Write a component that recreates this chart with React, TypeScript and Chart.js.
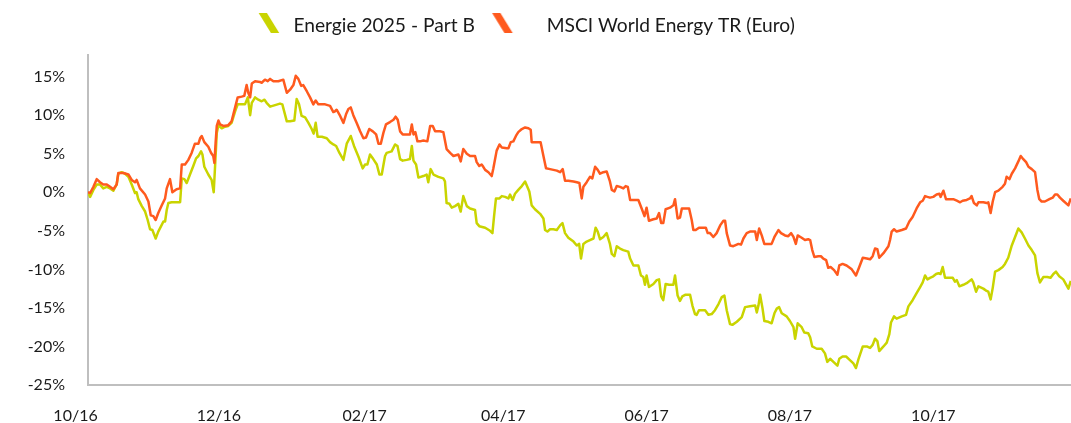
import React, { useEffect, useRef } from 'react';
import { Chart, registerables } from 'chart.js';

Chart.register(...registerables);

// ---- data ----
const seriesNames = ['Energie 2025 - Part B', 'MSCI World Energy TR (Euro)'];
const seriesColors = ['#C9D400', '#FF5A1E'];

// x tick positions in days since 1 Oct 2016, with their labels
const xTickDays = [0, 61, 123, 182, 243, 304, 365];
const xTickLabels = ['10/16', '12/16', '02/17', '04/17', '06/17', '08/17', '10/17'];
const yTickValues = [-25, -20, -15, -10, -5, 0, 5, 10, 15];

// Energie 2025 - Part B (performance in %), x in days since 1 Oct 2016
const energieDays = [5.3, 6.2, 7.6, 9.0, 10.4, 11.8, 13.3, 14.7, 16.1, 17.5, 18.2, 19.6, 21.1, 22.5, 23.9, 25.3, 26.0, 26.7, 28.2, 29.6, 30.7, 31.7, 32.7, 34.1, 35.2, 36.4, 37.4, 38.1, 38.8, 39.5, 40.9, 44.5, 45.2, 46.3, 47.3, 48.7, 50.1, 51.3, 52.3, 53.4, 54.0, 54.8, 56.5, 57.9, 58.8, 59.6, 60.1, 60.8, 62.2, 63.6, 65.0, 66.4, 67.9, 69.0, 70.7, 72.1, 73.3, 74.3, 75.0, 76.4, 77.8, 79.2, 80.4, 81.3, 82.8, 84.9, 87.0, 88.0, 89.9, 91.3, 93.1, 94.1, 95.1, 96.2, 97.7, 99.1, 100.5, 101.3, 102.2, 103.0, 104.8, 106.9, 108.3, 109.7,
  110.9, 112.3, 114.0, 115.4, 117.1, 118.5, 120.4, 122.2, 123.2, 124.2, 125.3, 126.7, 128.2, 129.3, 130.3, 131.7, 132.4, 134.5, 136.0, 137.0, 138.1, 139.2, 140.9, 142.3, 143.1, 143.8, 144.9, 145.9, 148.0, 149.4, 150.1, 151.1, 152.3, 154.4, 156.5, 157.2, 157.9, 159.1, 160.1, 161.5, 162.9, 163.9, 165.0, 166.5, 167.9, 170.0, 170.7, 171.8, 174.3, 176.4, 177.4, 178.1, 178.9, 180.4, 181.4, 182.8, 184.2, 184.9, 186.0, 187.0, 188.4, 189.9, 191.3, 193.1, 194.1, 195.5, 197.7, 199.1, 199.8, 200.8, 201.9, 203.3, 204.8, 206.2, 207.2, 208.3, 209.7, 211.9, 213.3,
  214.3, 215.1, 216.1, 217.5, 218.9, 220.4, 221.3, 222.2, 223.2, 224.6, 226.0, 227.4, 228.2, 229.3, 230.3, 231.7, 233.1, 235.2, 236.0, 237.4, 239.5, 240.6, 241.6, 242.3, 243.0, 244.0, 245.9, 247.3, 248.3, 249.2, 250.1, 251.1, 252.6, 254.4, 255.1, 256.2, 257.2, 258.2, 259.4, 261.5, 262.5, 263.6, 264.3, 265.3, 267.9, 269.3, 270.7, 272.1, 273.6, 275.0, 276.1, 277.1, 278.5, 279.5, 281.4, 283.5, 284.9, 287.0, 289.2, 289.9, 290.6, 291.3, 292.3, 293.1, 294.8, 296.2, 297.4, 298.4, 299.4, 300.5, 302.6, 304.0, 305.5, 306.2, 307.3, 309.0, 310.1, 311.8, 312.6, 313.5, 315.4, 317.5, 318.9,
  319.9, 321.1, 322.5, 324.2, 325.0, 326.4, 327.9, 329.3, 331.0, 332.1, 333.1, 335.0, 336.7, 338.1, 339.2, 340.2, 341.2, 342.0, 343.8, 345.2, 346.3, 347.0, 348.3, 349.4, 351.6, 353.4, 354.4, 356.2, 357.9, 359.4, 360.5, 361.5, 362.5, 363.6, 365.0, 366.2, 367.2, 368.1, 369.0, 370.0, 371.4, 373.3, 374.2, 375.0, 376.1, 377.8, 379.2, 381.3, 382.0, 383.2, 384.2, 386.3, 387.7, 388.4, 389.4, 390.3, 391.3, 392.7, 394.5, 395.5, 396.9, 398.4, 399.8, 401.2, 402.6, 404.0, 405.5, 406.9, 408.3, 409.3, 410.4, 411.8, 413.5, 414.9, 416.1, 417.2, 418.6, 420.3, 422.5, 423.5];
const energieValues = [0, -0.6, 0.3, 1.0, 1.0, 0.5, 0.7, 0.5, 0.2, 1.0, 2.4, 2.6, 2.4, 2.0, 1.0, -0.1, 0.0, -0.9, -1.8, -2.5, -3.6, -4.8, -4.9, -6.0, -5.1, -4.4, -3.8, -3.8, -2.3, -1.4, -1.3, -1.3, 1.8, 1.7, 1.2, 2.3, 3.4, 4.4, 4.7, 5.3, 4.9, 3.3, 2.3, 1.6, 0.0, 4.7, 7.7, 8.7, 8.3, 8.5, 8.6, 9.0, 10.5, 11.4, 11.4, 11.4, 12.3, 10.0, 11.6, 12.3, 12.0, 11.8, 12.0, 11.6, 11.1, 11.3, 11.5, 11.4, 9.2, 9.2, 9.3, 12.1, 11.4, 9.9, 9.7, 9.0, 8.2, 7.6, 9.0, 7.2, 7.2, 7.0, 6.5, 6.2,
  6.0, 5.1, 4.2, 6.3, 7.3, 6.0, 4.6, 3.1, 3.6, 3.6, 4.9, 4.3, 3.6, 2.3, 2.3, 4.7, 5.1, 5.3, 6.2, 6.0, 4.3, 4.1, 4.2, 4.3, 6.0, 4.1, 3.6, 1.9, 2.1, 2.3, 1.3, 3.0, 2.3, 2.0, 1.8, 1.4, -1.4, -1.5, -2.0, -1.8, -1.5, -2.5, -0.5, -1.8, -2.1, -2.3, -4.0, -4.4, -4.6, -5.0, -5.3, -3.1, -0.8, -0.8, -0.5, -0.6, -0.8, -0.3, -1.0, -0.2, 0.3, 0.8, 1.4, 0.1, -1.7, -2.2, -2.8, -3.4, -4.9, -5.1, -4.8, -4.8, -4.9, -4.3, -4.0, -5.3, -5.9, -6.4, -6.9,
  -6.7, -8.6, -6.7, -6.4, -6.2, -6.0, -4.6, -5.1, -6.1, -5.8, -5.3, -6.7, -8.0, -8.3, -7.0, -7.3, -7.5, -7.7, -8.6, -9.5, -9.5, -10.8, -11.0, -12.0, -10.8, -12.3, -11.9, -11.4, -11.3, -13.5, -14.0, -11.9, -12.0, -12.0, -10.8, -13.4, -14.1, -13.5, -13.3, -13.3, -14.7, -15.8, -15.9, -15.3, -15.3, -15.9, -15.8, -15.3, -14.5, -13.6, -13.4, -15.3, -17.1, -17.2, -16.8, -16.2, -14.9, -14.8, -14.7, -15.6, -14.7, -13.3, -15.0, -16.7, -16.8, -17.0, -15.7, -15.1, -14.9, -15.7, -16.1, -16.7, -17.5, -19.0, -17.0, -17.5, -18.2, -18.3, -18.8, -20.0, -20.3, -20.3, -20.9,
  -22.0, -21.6, -22.0, -22.5, -21.6, -21.3, -21.3, -21.7, -22.2, -22.8, -21.7, -20.0, -20.0, -20.2, -19.8, -19.0, -19.3, -20.6, -20.0, -19.5, -18.4, -16.9, -16.1, -16.4, -16.1, -15.9, -14.8, -14.0, -13.1, -12.3, -11.7, -10.8, -11.3, -11.1, -10.9, -10.6, -10.5, -10.6, -9.7, -11.1, -11.1, -11.1, -11.6, -11.4, -12.2, -12.0, -11.8, -11.3, -11.7, -12.9, -12.2, -12.5, -12.8, -12.9, -13.9, -12.4, -10.3, -10.1, -9.7, -9.3, -8.5, -6.9, -5.8, -4.7, -5.2, -6.0, -6.9, -7.5, -8.2, -10.5, -11.7, -11.0, -11.0, -11.1, -10.6, -10.3, -10.9, -11.3, -12.5, -11.5];

// MSCI World Energy TR (Euro) (performance in %), x in days since 1 Oct 2016
const msciDays = [5.3, 6.2, 7.6, 9.0, 10.4, 11.8, 13.3, 14.7, 16.1, 17.5, 18.2, 20.4, 22.5, 23.9, 25.3, 26.0, 27.4, 29.6, 31.0, 32.0, 33.1, 34.1, 35.2, 36.7, 38.1, 38.8, 40.2, 41.2, 43.0, 44.5, 45.2, 46.6, 48.0, 49.4, 50.8, 52.3, 53.0, 53.7, 54.8, 56.5, 57.7, 58.6, 59.1, 59.6, 60.1, 60.8, 61.5, 62.9, 65.0, 66.4, 67.9, 69.0, 70.7, 71.8, 72.8, 73.5, 74.3, 75.0, 76.4, 78.5, 79.2, 80.6, 81.8, 82.8, 84.2, 86.3, 88.4, 89.9, 91.3, 92.7, 93.7, 94.8, 96.0, 96.9, 98.4, 99.8, 101.2, 102.2, 103.3, 106.2, 108.3, 109.7,
  110.4, 111.1, 112.6, 114.0, 115.1, 116.1, 117.1, 118.2, 119.6, 121.1, 122.5, 123.6, 125.0, 126.5, 127.9, 128.9, 129.9, 131.0, 132.1, 133.8, 135.3, 136.2, 137.1, 138.1, 139.2, 141.6, 142.3, 143.1, 143.8, 144.6, 145.5, 146.6, 148.0, 149.7, 150.9, 152.0, 153.0, 155.1, 156.5, 157.9, 159.4, 160.8, 162.9, 163.9, 165.0, 166.5, 167.9, 170.0, 170.7, 171.8, 172.8, 173.5, 174.3, 175.7, 177.1, 177.8, 179.2, 180.4, 181.4, 183.5, 184.2, 185.2, 186.3, 187.4, 188.4, 189.9, 191.3, 192.7, 193.7, 194.1, 195.5, 197.9, 199.1, 200.2, 201.9, 204.8, 206.2, 207.3, 208.3, 209.7, 211.9, 213.3, 214.4,
  215.4, 216.1, 217.5, 218.9, 219.9, 221.1, 222.2, 223.2, 224.6, 226.0, 227.4, 228.2, 229.3, 230.3, 231.7, 233.1, 234.1, 235.0, 236.0, 237.4, 239.5, 240.9, 242.1, 243.0, 244.0, 245.9, 247.3, 248.3, 249.2, 250.1, 251.1, 253.0, 254.4, 255.1, 256.2, 257.2, 258.0, 259.4, 261.1, 262.2, 262.9, 263.9, 265.3, 267.2, 268.2, 269.0, 270.0, 271.4, 272.8, 274.3, 275.7, 276.4, 277.1, 278.5, 279.9, 282.1, 283.2, 284.2, 285.6, 287.0, 289.2, 289.9, 290.9, 292.0, 293.1, 295.5, 296.2, 297.4, 299.1, 300.2, 301.9, 303.3, 304.5, 305.5, 306.5, 307.3, 309.0, 310.4, 311.8, 312.6, 313.5, 314.4, 316.1, 317.2, 318.2,
  319.4, 320.3, 321.3, 322.8, 324.2, 325.0, 326.4, 328.1, 330.3, 332.1, 333.5, 335.0, 336.7, 338.1, 339.2, 340.2, 341.2, 342.0, 343.8, 345.9, 346.6, 347.3, 348.3, 349.4, 351.6, 353.4, 354.8, 356.2, 357.9, 359.4, 360.5, 361.5, 362.5, 363.6, 365.0, 366.4, 367.6, 368.1, 369.3, 370.4, 372.1, 373.5, 375.0, 376.4, 377.5, 379.2, 380.6, 381.3, 382.3, 383.5, 384.2, 386.3, 387.7, 388.4, 389.4, 390.3, 391.3, 392.7, 394.5, 395.5, 396.2, 397.4, 398.4, 399.8, 401.2, 402.2, 403.0, 404.5, 405.5, 406.9, 408.3, 409.3, 410.1, 411.1, 412.5, 414.4, 415.8, 416.8, 417.8, 418.9, 420.3, 422.5, 423.5];
const msciValues = [0, -0.1, 0.7, 1.7, 1.3, 1.0, 1.0, 0.7, 0.4, 1.0, 2.5, 2.5, 2.3, 1.6, 1.3, 1.6, 0.5, -0.3, -1.2, -3.0, -3.1, -3.6, -2.7, -1.7, -0.8, 0.5, 1.7, 0.0, 0.4, 0.5, 3.6, 3.6, 4.2, 5.1, 6.3, 6.3, 7.0, 7.3, 6.5, 5.9, 5.1, 4.7, 3.8, 6.4, 8.6, 9.3, 8.8, 8.6, 8.7, 9.2, 11.0, 12.3, 12.4, 12.5, 13.9, 12.9, 12.3, 14.1, 14.4, 14.3, 14.2, 14.6, 14.4, 14.7, 14.4, 14.4, 14.6, 12.9, 13.3, 13.9, 15.1, 14.7, 13.8, 13.9, 13.1, 12.3, 11.4, 11.9, 11.4, 11.4, 11.2, 10.4,
  10.5, 10.7, 9.9, 9.0, 10.1, 10.8, 11.0, 10.0, 9.0, 7.9, 7.0, 7.1, 8.2, 7.9, 7.5, 6.3, 6.3, 7.7, 8.8, 9.1, 9.4, 9.8, 9.4, 7.9, 7.5, 7.5, 7.5, 8.8, 7.5, 7.8, 6.6, 6.6, 6.7, 6.6, 8.6, 8.6, 7.9, 7.9, 7.8, 5.6, 5.1, 4.7, 4.9, 4.0, 5.6, 5.0, 4.7, 4.7, 3.9, 3.4, 3.6, 3.3, 2.9, 2.6, 2.1, 3.1, 5.4, 6.2, 5.8, 5.7, 5.7, 6.5, 6.6, 7.3, 7.8, 8.2, 8.4, 8.3, 8.1, 6.5, 6.5, 6.5, 4.7, 3.1, 3.0, 2.8, 2.6, 3.0, 1.5, 1.5, 1.4, 1.3, 1.2,
  -0.8, 0.7, 1.3, 2.0, 1.8, 3.3, 2.9, 2.4, 2.6, 2.7, 1.4, 0.3, 0.1, 0.8, 0.7, 0.5, 0.8, 0.7, -1.0, -1.0, -1.0, -2.1, -3.1, -2.0, -3.7, -3.5, -3.4, -2.7, -4.0, -4.0, -2.2, -2.0, -1.7, -0.9, -3.4, -3.3, -2.1, -2.1, -2.1, -3.6, -4.9, -4.9, -4.6, -4.6, -4.6, -5.3, -5.3, -5.8, -5.3, -4.3, -3.7, -3.7, -5.3, -6.9, -7.0, -6.7, -6.8, -6.0, -5.3, -5.1, -5.1, -6.2, -4.7, -5.6, -6.7, -6.7, -6.7, -5.8, -4.9, -5.3, -5.6, -5.7, -5.3, -5.8, -6.7, -5.6, -5.9, -6.2, -6.1, -6.2, -7.5, -8.4, -8.3, -8.3, -8.6,
  -8.8, -9.8, -9.7, -10.1, -10.7, -9.5, -9.3, -9.5, -10.0, -10.8, -9.7, -8.5, -8.6, -8.7, -8.3, -7.3, -7.4, -8.5, -7.9, -7.0, -6.2, -5.1, -4.8, -5.1, -4.9, -4.7, -3.8, -3.2, -2.1, -1.3, -1.1, -0.5, -0.6, -0.7, -0.6, -0.3, -0.2, -0.6, 0.2, -0.9, -0.9, -0.9, -1.1, -1.3, -1.1, -1.0, -0.8, -0.5, -1.4, -1.7, -1.3, -1.3, -1.4, -1.3, -2.7, -1.2, 0.0, 0.2, 0.7, 1.1, 2.0, 1.7, 2.4, 3.1, 4.0, 4.7, 4.4, 3.9, 3.3, 3.0, 2.6, 0.3, -0.9, -1.2, -1.2, -0.9, -0.7, -0.3, -0.3, -0.7, -1.1, -1.7, -0.8];

// ---- layout constants ----
const FONT = 'Lato';
const TEXT = '#1a1a1a';
const AXIS = '#BFBFBF';
const LEGEND_FONT = 19.2;
const LEGEND_PAD = 54.6;
const LEGEND_BOX = 7.6;
const LEGEND_TOP = -38.2;
const LEGEND_EXTRA = 9.4;
const MARKER_SHIFT = [-11.1, -30.9];

function makeMarker(color: string, dx: number): HTMLCanvasElement {
  const c = document.createElement('canvas');
  c.width = 100;
  c.height = 30;
  const g = c.getContext('2d')!;
  const cx = 50 + dx;
  const cy = 15 - 3;
  g.fillStyle = color;
  g.beginPath();
  g.moveTo(cx - 10.3, cy - 10);
  g.lineTo(cx - 2, cy - 10);
  g.lineTo(cx + 10.3, cy + 10);
  g.lineTo(cx + 2, cy + 10);
  g.closePath();
  g.fill();
  return c;
}

const legendSpacer = {
  id: 'legendSpacer',
  beforeLayout(chart: any) {
    const lg = chart.legend;
    if (lg && !lg._spacerPatched) {
      const orig = lg.fit;
      lg.fit = function () {
        orig.call(this);
        this.height += LEGEND_EXTRA;
      };
      lg._spacerPatched = true;
    }
  },
};

export default function App() {
  const ref = useRef<HTMLCanvasElement | null>(null);

  useEffect(() => {
    if (!ref.current) return;
    const energie = energieDays.map((d, i) => ({ x: d, y: energieValues[i] }));
    const msci = msciDays.map((d, i) => ({ x: d, y: msciValues[i] }));
    const chart = new Chart(ref.current, {
      type: 'line',
      data: {
        datasets: [
          {
            label: seriesNames[0],
            data: energie,
            borderColor: seriesColors[0],
            backgroundColor: seriesColors[0],
            borderWidth: 2.5,
            pointRadius: 0,
            pointHoverRadius: 0,
            pointStyle: makeMarker(seriesColors[0], MARKER_SHIFT[0]),
            tension: 0,
            borderJoinStyle: 'round',
            order: 1,
          },
          {
            label: seriesNames[1],
            data: msci,
            borderColor: seriesColors[1],
            backgroundColor: seriesColors[1],
            borderWidth: 2.5,
            pointRadius: 0,
            pointHoverRadius: 0,
            pointStyle: makeMarker(seriesColors[1], MARKER_SHIFT[1]),
            tension: 0,
            borderJoinStyle: 'round',
            order: 0,
          },
        ],
      },
      options: {
        responsive: false,
        animation: false,
        layout: { padding: { top: LEGEND_TOP, left: 0, right: 0, bottom: 5.8 } },
        plugins: {
          legend: {
            display: true,
            position: 'top',
            align: 'center',
            labels: {
              usePointStyle: true,
              pointStyleWidth: LEGEND_BOX,
              padding: LEGEND_PAD,
              color: TEXT,
              font: { family: FONT, size: LEGEND_FONT },
              sort: (a: any, b: any) => a.datasetIndex - b.datasetIndex,
            },
          },
          tooltip: { enabled: false },
          title: { display: false },
        },
        scales: {
          x: {
            type: 'linear',
            min: 5.3,
            max: 423.6,
            grid: { display: false, drawTicks: false },
            border: { display: true, color: AXIS, width: 2 },
            afterBuildTicks: (s: any) => {
              s.ticks = xTickDays.map((v) => ({ value: v }));
            },
            ticks: {
              autoSkip: false,
              maxRotation: 0,
              minRotation: 0,
              padding: 21,
              color: TEXT,
              font: { family: FONT, size: 16 },
              callback: (v: any) => {
                const i = xTickDays.indexOf(Number(v));
                return i >= 0 ? xTickLabels[i] : '';
              },
            },
          },
          y: {
            type: 'linear',
            min: -25,
            max: 17.8,
            grid: { display: false, drawTicks: false },
            border: { display: true, color: AXIS, width: 2 },
            afterBuildTicks: (s: any) => {
              s.ticks = yTickValues.map((v) => ({ value: v }));
            },
            afterFit: (s: any) => {
              s.width = 88;
            },
            ticks: {
              padding: 23,
              color: TEXT,
              font: { family: FONT, size: 16 },
              callback: (v: any) => `${v}%`,
            },
          },
        },
      },
      plugins: [legendSpacer],
    } as any);
    return () => chart.destroy();
  }, []);

  return (
    <div style={{ position: 'fixed', left: 0, top: 0, width: 1071, height: 452, background: '#fff' }}>
      <canvas ref={ref} width={1071} height={452} style={{ display: 'block' }} />
    </div>
  );
}
